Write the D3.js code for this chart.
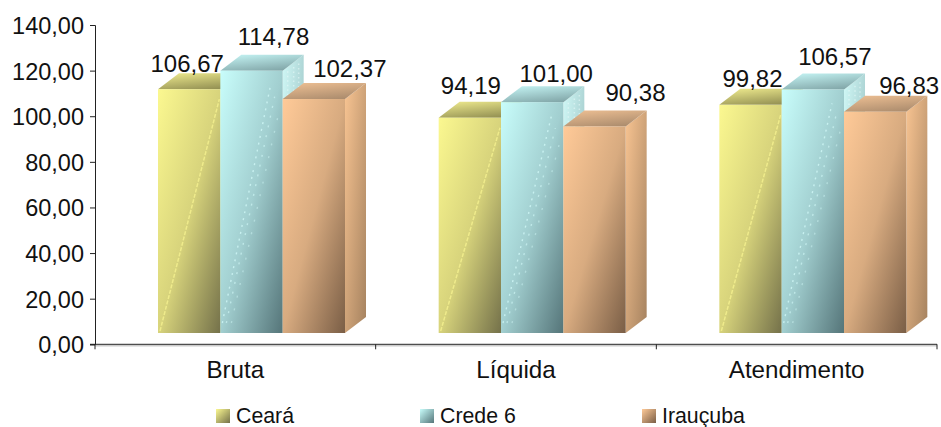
<!DOCTYPE html>
<html>
<head>
<meta charset="utf-8">
<style>
  html, body { margin: 0; padding: 0; background: #fff; }
  svg { display: block; }
  text { font-family: "Liberation Sans", Arial, sans-serif; fill: #111; }
</style>
<script src="https://cdn.jsdelivr.net/npm/d3@7"></script>
</head>
<body>
<svg id="chart" width="941" height="427"></svg>
<script>
// ---------- data ----------
const categories = ['Bruta', 'Líquida', 'Atendimento'];
const seriesNames = ['Ceará', 'Crede 6', 'Irauçuba'];
const ceara = [106.67, 94.19, 99.82];
const crede6 = [114.78, 101.00, 106.57];
const iraucuba = [102.37, 90.38, 96.83];
const yTicks = [0, 20, 40, 60, 80, 100, 120, 140];

// ---------- layout ----------
const width = 941, height = 427;
const depthX = 21, depthY = 16;
const fmt = v => v.toFixed(2).replace('.', ',');

const palette = [
  { light: '#fbf890', mid: '#d8d47c', dark: '#74714a', streak: '#f6f290', top: ['#8f8c50', '#e6e288'], side: ['#fdfa92', '#b0ad60'] },
  { light: '#c8fdfb', mid: '#a2cfd0', dark: '#557579', streak: '#d4fbfa', top: ['#7fa3a5', '#bfeeee'], side: ['#d0f8f6', '#8fb6b8'] },
  { light: '#ffca98', mid: '#d8ab80', dark: '#7a5e46', streak: null, top: ['#a98a6c', '#e8bb90'], side: ['#f8c492', '#a5825f'] }
];

const svg = d3.select('#chart');
const defs = svg.append('defs');

const x0 = d3.scaleBand().domain(categories).range([95, 937]);
const y = d3.scaleLinear().domain([0, 140]).range([344.3, 25]);
// front plane of the 3d bars sits a bit above the axis line
const yBar = d3.scaleLinear().domain([0, 140]).range([333, 13]);
const barGroupWidth = 187;
const x1 = d3.scaleBand().domain(seriesNames).range([0, barGroupWidth]);
const groupOffset = 63;

palette.forEach((p, i) => {
  const front = defs.append('linearGradient').attr('id', 'front' + i)
    .attr('x1', 0).attr('y1', 0).attr('x2', 1).attr('y2', 1);
  front.append('stop').attr('offset', 0).attr('stop-color', p.light);
  front.append('stop').attr('offset', 0.5).attr('stop-color', p.mid);
  front.append('stop').attr('offset', 1).attr('stop-color', p.dark);

  const top = defs.append('linearGradient').attr('id', 'top' + i)
    .attr('x1', 0.8).attr('y1', 1).attr('x2', 0.3).attr('y2', 0);
  top.append('stop').attr('offset', 0).attr('stop-color', p.top[0]);
  top.append('stop').attr('offset', 1).attr('stop-color', p.top[1]);

  const side = defs.append('linearGradient').attr('id', 'side' + i)
    .attr('x1', 0).attr('y1', 0).attr('x2', 1).attr('y2', 1);
  side.append('stop').attr('offset', 0).attr('stop-color', p.side[0]);
  side.append('stop').attr('offset', 1).attr('stop-color', p.side[1]);

  const swatch = defs.append('linearGradient').attr('id', 'swatch' + i)
    .attr('x1', 0).attr('y1', 0).attr('x2', 1).attr('y2', 1);
  swatch.append('stop').attr('offset', 0).attr('stop-color', p.light);
  swatch.append('stop').attr('offset', 1).attr('stop-color', p.dark);
});

// axis lines
const axisG = svg.append('g');
const axisLeft = d3.axisLeft(y).tickValues(yTicks).tickFormat(fmt).tickSize(5).tickPadding(6);
const yAxis = axisG.append('g').attr('transform', 'translate(95,0)').call(axisLeft);
yAxis.selectAll('text').style('font-size', '23.5px').attr('dy', '0.36em');
yAxis.selectAll('line,path').attr('stroke', '#222');

axisG.append('line').attr('x1', 95).attr('x2', 937).attr('y1', y(0) + 1.4).attr('y2', y(0) + 1.4)
  .attr('stroke', '#ccc').attr('stroke-width', 1.4);
axisG.append('line').attr('x1', 90).attr('x2', 937).attr('y1', y(0)).attr('y2', y(0)).attr('stroke', '#222');
const xBounds = [...categories.map(c => x0(c)), 937];
axisG.selectAll('.xt').data(xBounds).enter().append('line').attr('class', 'xt')
  .attr('x1', d => d).attr('x2', d => d).attr('y1', y(0)).attr('y2', y(0) + 5).attr('stroke', '#222');

svg.append('g').selectAll('text').data(categories).enter().append('text')
  .attr('x', d => x0(d) + x0.bandwidth() / 2).attr('y', 378)
  .attr('text-anchor', 'middle').style('font-size', '24.2px').text(d => d);

// bars, back-to-front so the neighbour covers the side face
const series = [ceara, crede6, iraucuba];
const labelDx = [[-2, 0, 0], [1, 2, 5], [2, 0, -2]];
const labelDy = [[-17, -26, -22], [-24, -20, -25], [-18, -24, -18]];
const barsG = svg.append('g');

categories.forEach((cat, c) => {
  seriesNames.forEach((name, s) => {
    const v = series[s][c];
    const left = x0(cat) + groupOffset + x1(name);
    const w = x1.bandwidth();
    const top = yBar(v), base = yBar(0);
    const g = barsG.append('g');
    // side
    g.append('path').attr('fill', `url(#side${s})`)
      .attr('d', `M${left + w},${top}L${left + w + depthX},${top - depthY}L${left + w + depthX},${base - depthY}L${left + w},${base}Z`);
    // top
    g.append('path').attr('fill', `url(#top${s})`)
      .attr('d', `M${left},${top}L${left + depthX},${top - depthY}L${left + w + depthX},${top - depthY}L${left + w},${top}Z`);
    // front
    g.append('rect').attr('x', left).attr('y', top).attr('width', w).attr('height', base - top)
      .attr('fill', `url(#front${s})`);
    const streak = palette[s].streak;
    if (s === 0) {
      // the light dotted diagonal from the picture fill
      g.append('line').attr('x1', left + 2).attr('y1', base - 2).attr('x2', left + w - 1).attr('y2', top + 10)
        .attr('stroke', streak).attr('stroke-width', 1.5).attr('stroke-dasharray', '4 1.5').attr('opacity', 0.8);
    }
    if (s === 1) {
      // crede's streak is wider and more broken up
      [0, 4, 9].forEach((off, k) => {
        g.append('line').attr('x1', left + 2 + off).attr('y1', base - 10).attr('x2', left + w - 12 + off).attr('y2', top + 14 + k * 12)
          .attr('stroke', streak).attr('stroke-width', 1.4).attr('stroke-dasharray', `2 ${5 + k * 3}`).attr('opacity', 0.75 - k * 0.15);
      });
      // speckle on the upper part of the side face
      [5, 11, 16].forEach(off => {
        g.append('line').attr('x1', left + w + off).attr('y1', top - off * 0.7 + 4).attr('x2', left + w + off).attr('y2', top - off * 0.7 + 50)
          .attr('stroke', '#eefdfc').attr('stroke-width', 1.5).attr('stroke-dasharray', '1.5 3').attr('opacity', 0.5);
      });
    }
  });
});

// value labels on top of everything
const labelsG = svg.append('g');
categories.forEach((cat, c) => {
  seriesNames.forEach((name, s) => {
    const v = series[s][c];
    const cx = x0(cat) + groupOffset + x1(name) + x1.bandwidth() / 2 + [0, 22, 36][s];
    labelsG.append('text')
      .attr('x', cx + labelDx[c][s]).attr('y', yBar(v) + labelDy[c][s])
      .attr('text-anchor', 'middle').style('font-size', '24px').text(fmt(v));
  });
});

// legend
const legendX = d3.scaleOrdinal().domain(seriesNames).range([216, 420, 642]);
const legend = svg.append('g').selectAll('g').data(seriesNames).enter().append('g')
  .attr('transform', d => `translate(${legendX(d)},409)`);
legend.append('rect').attr('width', 14).attr('height', 14)
  .attr('fill', (d, i) => `url(#swatch${i})`);
legend.append('text').attr('x', 20).attr('y', 14).style('font-size', '21.3px').text(d => d);
</script>
</body>
</html>
